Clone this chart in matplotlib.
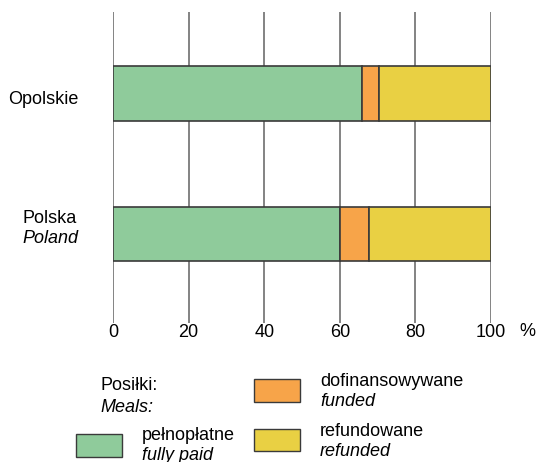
import matplotlib.pyplot as plt
import matplotlib.patches as mpatches

plt.rcParams['font.family'] = ['Liberation Sans', 'DejaVu Sans']

regiony = ["Polska", "Opolskie"]
regiony_en = ["Poland", ""]
pelnoplatne = [60.0, 66.0]
dofinansowywane = [7.6, 4.4]
refundowane = [32.4, 29.6]

kolory = ["#8fcb9b", "#f7a449", "#e9d043"]
krawedz = "#3a3a3a"
fs = 13

W, H = 538, 462
fig = plt.figure(figsize=(W / 100, H / 100), dpi=100)
ax = fig.add_axes([113 / W, 1 - 323 / H, (491 - 113) / W, (323 - 12) / H])

y = [0, 1]
lewo = [0, 0]
for serie, kol in zip([pelnoplatne, dofinansowywane, refundowane], kolory):
    ax.barh(y, serie, left=lewo, height=0.39, color=kol, edgecolor=krawedz,
            linewidth=1.2, zorder=3)
    lewo = [a + b for a, b in zip(lewo, serie)]

ax.set_xlim(0, 100)
ax.set_ylim(-0.633, 1.58)
ax.set_xticks([0, 20, 40, 60, 80, 100])
ax.set_xticklabels(["0", "20", "40", "60", "80", "100"], fontsize=fs)
ax.tick_params(axis="x", length=0, pad=1)
ax.set_yticks([])
ax.grid(axis="x", color="#7a7a7a", linewidth=1.3, zorder=0)
for s in ax.spines.values():
    s.set_visible(False)
fig.text(527 / W, 1 - 332 / H, "%", fontsize=fs, ha="center", va="center")

# etykiety regionow (x w pikselach przeliczone na os)
szer = 491 - 113
ax.text((43 - 113) / szer, 1 - 0.045, "Opolskie",
        transform=ax.get_yaxis_transform(), ha="center", va="center", fontsize=fs)
ax.text((50 - 113) / szer, 0.0 + 0.11, "Polska",
        transform=ax.get_yaxis_transform(), ha="center", va="center", fontsize=fs)
ax.text((50 - 113) / szer, 0.0 - 0.035, "Poland",
        transform=ax.get_yaxis_transform(), ha="center", va="center", fontsize=fs,
        style="italic")

# legenda
def px(x, yy):
    return x / W, 1 - yy / H

fig.text(*px(100, 386), "Posiłki:", fontsize=fs, va="center")
fig.text(*px(100, 407), "Meals:", fontsize=fs, va="center", style="italic")

def pole(x0, y0, x1, y1, kol):
    fig.patches.append(mpatches.Rectangle(px(x0, y1), (x1 - x0) / W, (y1 - y0) / H,
                                          transform=fig.transFigure,
                                          facecolor=kol, edgecolor=krawedz,
                                          linewidth=1.0))

pole(254, 379, 300, 402, kolory[1])
fig.text(*px(320, 381), "dofinansowywane", fontsize=fs, va="center")
fig.text(*px(320, 402), "funded", fontsize=fs, va="center", style="italic")

pole(76, 434, 122, 457, kolory[0])
fig.text(*px(142, 436), "pełnopłatne", fontsize=fs, va="center")
fig.text(*px(142, 455), "fully paid", fontsize=fs, va="center", style="italic")

pole(254, 429, 300, 451, kolory[2])
fig.text(*px(320, 431), "refundowane", fontsize=fs, va="center")
fig.text(*px(320, 452), "refunded", fontsize=fs, va="center", style="italic")

fig.savefig("out.png", dpi=100)
